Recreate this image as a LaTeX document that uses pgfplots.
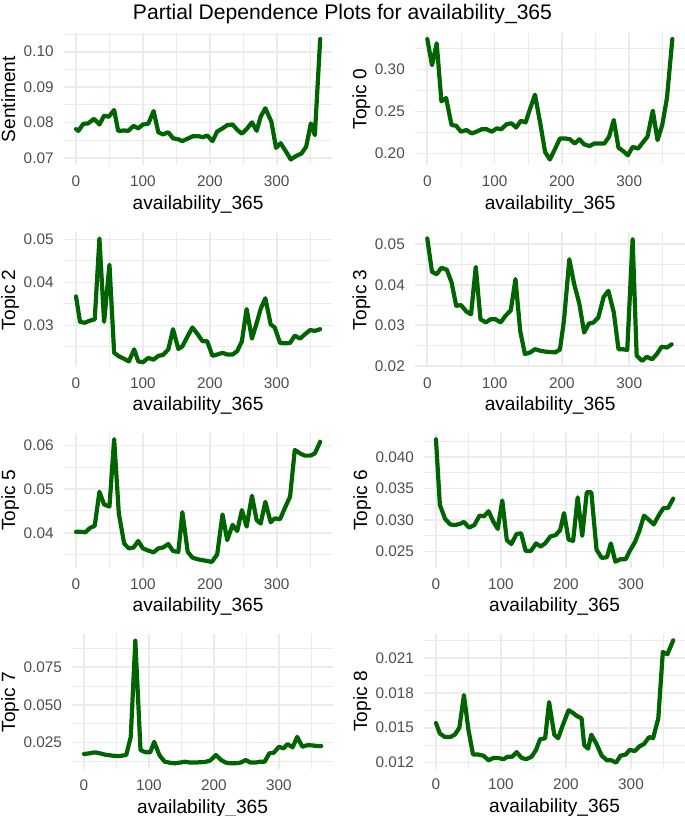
\documentclass[border=0pt]{standalone}
\usepackage{pgfplots}
\pgfplotsset{compat=1.18}
\usepackage{fontspec}
\setmainfont{Liberation Sans}
\definecolor{gridc}{HTML}{EBEBEB}
\definecolor{tickc}{HTML}{4D4D4D}
\definecolor{pdpgreen}{HTML}{006400}
\pgfplotsset{
  pdp/.style={
    scale only axis, anchor=north west,
    xmin=-18.25, xmax=383.25,
    xtick={0,100,200,300}, xticklabels={0,100,200,300},
    minor xtick={50,150,250,350},
    scaled y ticks=false, scaled x ticks=false,
    grid=both,
    major grid style={draw=gridc, line width=1.6bp},
    minor grid style={draw=gridc, line width=0.9bp},
    axis line style={draw=none},
    major tick length=0pt, minor tick length=0pt,
    tick label style={font=\fontsize{15.4}{18}\selectfont, text=tickc},
    every x tick label/.style={anchor=base, yshift=-21.2bp, inner sep=0pt},
    every y tick label/.style={anchor=east, xshift=-10bp, inner sep=0pt},
    xlabel={availability\_365},
    every axis x label/.style={at={(axis description cs:0.5,0)}, yshift=-43.8bp, anchor=base, font=\fontsize{19.2}{22}\selectfont, inner sep=0pt},
    clip=false,
    /pgf/number format/assume math mode=true,
  },
  ylab4/.style={every axis y label/.style={at={(axis description cs:0,0.5)}, xshift=-48.6bp, rotate=90, anchor=base, font=\fontsize{19.2}{22}\selectfont, inner sep=0pt}},
  ylab5/.style={every axis y label/.style={at={(axis description cs:0,0.5)}, xshift=-57bp, rotate=90, anchor=base, font=\fontsize{19.2}{22}\selectfont, inner sep=0pt}},
  pdpline/.style={draw=pdpgreen, line width=4.2bp, line join=round, line cap=round, no marks},
}

\pgfplotstableread{
x y
0 0.0781
3.5 0.0776
11 0.0796
18 0.0797
27 0.0810
35 0.0794
42 0.0819
49 0.0816
57 0.0835
63 0.0776
72 0.0777
78 0.0776
86 0.0790
93 0.0783
100 0.0794
108 0.0796
116 0.0832
123 0.0772
130 0.0766
138 0.0772
145 0.0755
153 0.0752
159 0.0747
168 0.0755
175 0.0761
183 0.0761
190 0.0758
196 0.0763
204 0.0747
211 0.0774
219 0.0783
226 0.0792
234 0.0794
241 0.0779
248 0.0768
255 0.0781
263 0.0800
270 0.0776
276 0.0816
283 0.0840
292 0.0802
299 0.0728
306 0.0741
314 0.0717
321 0.0695
330 0.0706
337 0.0712
344 0.0731
351 0.0797
357 0.0764
365 0.1036
}\sentiment

\pgfplotstableread{
x y
0 0.336
7 0.305
14 0.331
21 0.262
28 0.266
36 0.234
43 0.233
50 0.226
58 0.228
66 0.224
73 0.226
81 0.229
88 0.229
96 0.226
103 0.230
110 0.229
118 0.235
125 0.236
132 0.231
139 0.239
146 0.237
153 0.254
160 0.270
168 0.235
175 0.202
182 0.193
190 0.206
197 0.218
205 0.218
212 0.217
219 0.212
226 0.217
233 0.211
241 0.209
248 0.212
255 0.212
263 0.212
270 0.220
277 0.240
284 0.207
291 0.203
298 0.198
305 0.208
313 0.206
320 0.213
327 0.220
335 0.251
342 0.216
349 0.234
356 0.266
364 0.336
}\topiczero

\pgfplotstableread{
x y
0 0.0367
6 0.0308
13 0.0306
21 0.0311
28 0.0314
35 0.0502
42 0.0308
50 0.0441
57 0.0236
64 0.0228
72 0.0222
79 0.0216
87 0.0244
93 0.0216
100 0.0214
108 0.0224
116 0.0220
123 0.0229
130 0.0231
138 0.0244
145 0.0291
153 0.0245
159 0.0251
167 0.0275
174 0.0295
182 0.0279
189 0.0263
196 0.0263
204 0.0229
211 0.0232
219 0.0236
226 0.0232
234 0.0232
241 0.0240
248 0.0263
255 0.0338
263 0.0269
270 0.0305
276 0.0338
283 0.0363
291 0.0302
297 0.0295
305 0.0259
312 0.0258
320 0.0259
327 0.0276
335 0.0269
342 0.0279
350 0.0289
357 0.0287
365 0.0291
}\topictwo

\pgfplotstableread{
x y
0 0.0514
7 0.0432
14 0.0426
21 0.0442
29 0.0437
36 0.0406
43 0.0348
50 0.0350
58 0.0334
65 0.0327
72 0.0444
79 0.0315
87 0.0307
94 0.0315
101 0.0315
109 0.0307
116 0.0323
124 0.0337
131 0.0414
138 0.0286
145 0.0229
153 0.0233
160 0.0241
168 0.0237
175 0.0235
182 0.0234
190 0.0233
197 0.0240
203 0.0311
211 0.0463
218 0.0403
226 0.0352
233 0.0282
240 0.0304
247 0.0307
254 0.0319
262 0.0370
269 0.0385
277 0.0332
284 0.0241
290 0.0241
297 0.0239
305 0.0512
311 0.0225
319 0.0212
326 0.0222
334 0.0216
341 0.0229
348 0.0247
356 0.0245
363 0.0253
}\topicthree

\pgfplotstableread{
x y
0 0.0402
7 0.0402
14 0.0401
21 0.0411
28 0.0416
35 0.0494
42 0.0465
50 0.0460
57 0.0615
64 0.0444
72 0.0375
79 0.0364
86 0.0366
93 0.0381
100 0.0364
108 0.0359
116 0.0355
123 0.0364
130 0.0366
138 0.0374
145 0.0358
153 0.0356
159 0.0447
167 0.0356
174 0.0343
182 0.0339
189 0.0337
196 0.0335
203 0.0333
211 0.0350
219 0.0442
226 0.0383
234 0.0418
241 0.0404
248 0.0452
255 0.0414
263 0.0485
270 0.0429
276 0.0421
283 0.0471
291 0.0424
297 0.0433
305 0.0431
312 0.0456
320 0.0483
327 0.0590
335 0.0582
342 0.0577
350 0.0577
357 0.0582
365 0.0609
}\topicfive

\pgfplotstableread{
x y
0 0.0428
6 0.0324
14 0.0302
22 0.0293
29 0.0292
37 0.0294
43 0.0297
51 0.0288
59 0.0292
67 0.0307
74 0.0306
81 0.0314
88 0.0298
95 0.0286
102 0.0331
109 0.0268
116 0.0262
124 0.0278
131 0.0279
138 0.0251
146 0.0251
154 0.0263
161 0.0258
168 0.0263
176 0.0274
184 0.0276
191 0.0284
197 0.0311
204 0.0269
211 0.0267
218 0.0336
225 0.0275
232 0.0344
239 0.0344
247 0.0253
255 0.0240
263 0.0241
269 0.0263
276 0.0234
284 0.0238
292 0.0238
298 0.0251
306 0.0265
313 0.0283
320 0.0307
328 0.0300
335 0.0293
343 0.0308
350 0.0319
357 0.0319
365 0.0334
}\topicsix

\pgfplotstableread{
x y
0 0.0173
8 0.0177
17 0.0184
25 0.0177
32 0.0169
40 0.0164
48 0.0160
55 0.0160
65 0.0166
72 0.0287
79 0.0926
87 0.0199
95 0.0184
102 0.0184
108 0.0254
116 0.0166
124 0.0122
131 0.0116
139 0.0111
148 0.0116
155 0.0122
163 0.0116
171 0.0116
178 0.0118
186 0.0120
194 0.0129
203 0.0166
211 0.0133
218 0.0116
226 0.0111
233 0.0111
241 0.0116
249 0.0133
256 0.0116
264 0.0116
271 0.0122
278 0.0122
285 0.0177
292 0.0182
300 0.0221
307 0.0210
313 0.0239
321 0.0217
328 0.0287
336 0.0221
344 0.0232
351 0.0230
359 0.0226
365 0.0226
}\topicseven

\pgfplotstableread{
x y
0 0.0154
6 0.0145
14 0.0142
22 0.0142
29 0.0144
36 0.0150
43 0.0178
50 0.0148
57 0.0127
65 0.0127
73 0.0126
81 0.0122
88 0.0124
96 0.0124
104 0.0123
110 0.0125
117 0.0125
124 0.0129
132 0.0124
139 0.0123
147 0.0125
154 0.0131
160 0.0140
168 0.0141
174 0.0172
182 0.0144
188 0.0141
195 0.0152
204 0.0165
210 0.0163
217 0.0160
224 0.0158
228 0.0135
234 0.0132
239 0.0144
247 0.0136
255 0.0126
263 0.0122
270 0.0122
277 0.0120
284 0.0126
292 0.0127
298 0.0131
306 0.0130
313 0.0134
320 0.0136
328 0.0142
334 0.0141
342 0.0158
349 0.0215
356 0.0213
365 0.0225
}\topiceight

\begin{document}
\begin{tikzpicture}
\path[use as bounding box] (0,0) rectangle (685bp,816bp);
\node[anchor=base, font=\fontsize{21.2}{24}\selectfont, inner sep=0pt] at (342.5bp,796.3bp) {Partial Dependence Plots for availability\_365};

% Row 1
\begin{axis}[pdp, ylab4, at={(63.8bp,783bp)}, width=268.6bp, height=132.5bp,
  ymin=0.0678, ymax=0.1053, ytick={0.07,0.08,0.09,0.10}, yticklabels={0.07,0.08,0.09,0.10},
  minor ytick={0.075,0.085,0.095,0.105}, ylabel={Sentiment}]
\addplot[pdpline] table {\sentiment};
\end{axis}
\begin{axis}[pdp, ylab4, at={(415bp,783bp)}, width=270.3bp, height=132.5bp,
  ymin=0.1859, ymax=0.3432, ytick={0.20,0.25,0.30}, yticklabels={0.20,0.25,0.30},
  minor ytick={0.225,0.275,0.325}, ylabel={Topic 0}]
\addplot[pdpline] table {\topiczero};
\end{axis}

% Row 2
\begin{axis}[pdp, ylab4, at={(63.8bp,583.5bp)}, width=268.6bp, height=134.5bp,
  ymin=0.0203, ymax=0.0516, ytick={0.03,0.04,0.05}, yticklabels={0.03,0.04,0.05},
  minor ytick={0.025,0.035,0.045}, ylabel={Topic 2}]
\addplot[pdpline] table {\topictwo};
\end{axis}
\begin{axis}[pdp, ylab4, at={(415bp,583.5bp)}, width=270.3bp, height=134.5bp,
  ymin=0.0197, ymax=0.0529, ytick={0.02,0.03,0.04,0.05}, yticklabels={0.02,0.03,0.04,0.05},
  minor ytick={0.025,0.035,0.045}, ylabel={Topic 3}]
\addplot[pdpline] table {\topicthree};
\end{axis}

% Row 3
\begin{axis}[pdp, ylab4, at={(63.8bp,383bp)}, width=268.6bp, height=135bp,
  ymin=0.0319, ymax=0.0629, ytick={0.04,0.05,0.06}, yticklabels={0.04,0.05,0.06},
  minor ytick={0.035,0.045,0.055}, ylabel={Topic 5}]
\addplot[pdpline] table {\topicfive};
\end{axis}
\begin{axis}[pdp, ylab5, at={(424.1bp,383bp)}, width=261bp, height=135bp,
  ymin=0.0224, ymax=0.0438, ytick={0.025,0.030,0.035,0.040}, yticklabels={0.025,0.030,0.035,0.040},
  minor ytick={0.0275,0.0325,0.0375,0.0425}, ylabel={Topic 6}]
\addplot[pdpline] table {\topicsix};
\end{axis}

% Row 4
\begin{axis}[pdp, ylab5, at={(72.1bp,181.5bp)}, width=261bp, height=135bp,
  ymin=0.007, ymax=0.0967, ytick={0.025,0.050,0.075}, yticklabels={0.025,0.050,0.075},
  minor ytick={0.0125,0.0375,0.0625,0.0875}, ylabel={Topic 7}]
\addplot[pdpline] table {\topicseven};
\end{axis}
\begin{axis}[pdp, ylab5, at={(424.1bp,181.5bp)}, width=261bp, height=134bp,
  ymin=0.0115, ymax=0.0230, ytick={0.012,0.015,0.018,0.021}, yticklabels={0.012,0.015,0.018,0.021},
  minor ytick={0.0135,0.0165,0.0195,0.0225}, ylabel={Topic 8}]
\addplot[pdpline] table {\topiceight};
\end{axis}
\end{tikzpicture}
\end{document}
